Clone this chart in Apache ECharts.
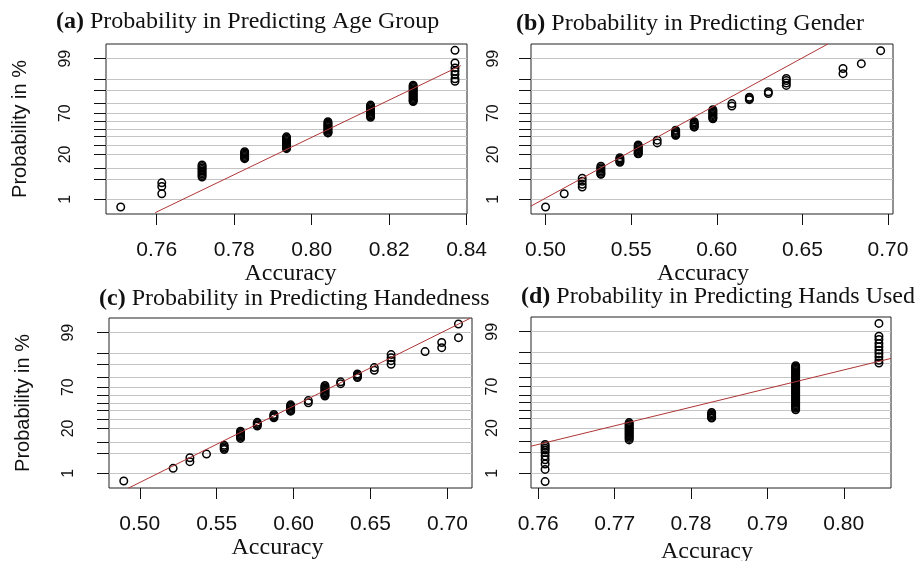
<!DOCTYPE html>
<html lang="en">
<head>
  <meta charset="UTF-8">
  <title>Probability plots of accuracy</title>
  <script src="https://cdn.jsdelivr.net/npm/echarts@6/dist/echarts.min.js"></script>
  <style>
    html, body { margin: 0; padding: 0; background: #fff; }
  </style>
</head>
<body>

<div id="chart" style="width: 918px; height: 561px;"></div>

<script>
  // panel titles
  var panelTags = ['(a)', '(b)', '(c)', '(d)'];
  var panelTitles = [
    'Probability in Predicting Age Group',
    'Probability in Predicting Gender',
    'Probability in Predicting Handedness',
    'Probability in Predicting Hands Used'
  ];

  // probability grid (%) and the matching normal quantiles
  var probLevels = [1, 5, 10, 20, 30, 40, 50, 60, 70, 80, 90, 95, 99];
  var probZ = [-2.326, -1.645, -1.282, -0.842, -0.524, -0.253, 0, 0.253, 0.524, 0.842, 1.282, 1.645, 2.326];
  var labelProbs = [1, 20, 70, 99];

  // x tick labels
  var ageTicks = [0.76, 0.78, 0.80, 0.82, 0.84];
  var genderTicks = [0.50, 0.55, 0.60, 0.65, 0.70];
  var handTicks = [0.50, 0.55, 0.60, 0.65, 0.70];
  var usedTicks = [0.76, 0.77, 0.78, 0.79, 0.80];

  // (a) age group: accuracy levels and normal scores of the points at each level
  var ageAcc = [0.7507, 0.7613, 0.7717, 0.7827, 0.7935, 0.8042, 0.8152, 0.8262, 0.8370];
  var ageZ = [
    [-2.58],
    [-1.78, -1.90, -2.14],
    [-1.19, -1.24, -1.29, -1.34, -1.39, -1.44, -1.49, -1.54, -1.59],
    [-0.75, -0.79, -0.83, -0.87, -0.91, -0.95, -0.98],
    [-0.26, -0.30, -0.34, -0.38, -0.42, -0.46, -0.50, -0.54, -0.58, -0.62, -0.65],
    [0.24, 0.20, 0.16, 0.12, 0.08, 0.04, 0.00, -0.04, -0.08, -0.12, -0.13],
    [0.79, 0.75, 0.71, 0.67, 0.63, 0.59, 0.55, 0.51, 0.47, 0.43, 0.39],
    [1.45, 1.41, 1.37, 1.33, 1.29, 1.25, 1.21, 1.17, 1.13, 1.09, 1.05, 1.01, 0.97, 0.93, 0.91],
    [2.60, 2.18, 2.02, 1.91, 1.80, 1.66, 1.58]
  ];
  var ageLine = [[0.7596, -2.766], [0.8385, 2.096]];

  // (b) gender
  var genderAcc = [0.5000, 0.5109, 0.5214, 0.5323, 0.5434, 0.5541, 0.5652, 0.5760, 0.5868,
                   0.5977, 0.6088, 0.6190, 0.6301, 0.6406, 0.6737, 0.6844, 0.6957];
  var genderZ = [
    [-2.58],
    [-2.14],
    [-1.63, -1.73, -1.83, -1.92],
    [-1.23, -1.28, -1.33, -1.38, -1.43, -1.48, -1.50],
    [-0.95, -0.99, -1.03, -1.07, -1.10],
    [-0.53, -0.57, -0.61, -0.65, -0.69, -0.73, -0.77, -0.81, -0.82],
    [-0.37, -0.46],
    [-0.04, -0.08, -0.12, -0.16, -0.20, -0.21],
    [0.24, 0.20, 0.16, 0.12, 0.08, 0.06],
    [0.64, 0.60, 0.56, 0.52, 0.48, 0.44, 0.40, 0.36, 0.34],
    [0.84, 0.76],
    [1.05, 1.01, 0.97],
    [1.23, 1.17],
    [1.67, 1.60, 1.52, 1.44],
    [2.00, 1.83],
    [2.16],
    [2.59]
  ];
  var genderLine = [[0.4915, -2.548], [0.6649, 2.812]];

  // (c) handedness
  var handAcc = [0.4896, 0.5217, 0.5326, 0.5434, 0.5549, 0.5655, 0.5764, 0.5872, 0.5981,
                 0.6096, 0.6204, 0.6306, 0.6415, 0.6525, 0.6634, 0.6855, 0.6963, 0.7072];
  var handZ = [
    [-2.58],
    [-2.16],
    [-1.81, -1.94],
    [-1.69],
    [-1.40, -1.45, -1.50, -1.54],
    [-0.93, -0.97, -1.01, -1.05, -1.09, -1.13, -1.17],
    [-0.64, -0.68, -0.72, -0.76],
    [-0.38, -0.42, -0.46, -0.49],
    [-0.06, -0.10, -0.14, -0.18, -0.22, -0.26, -0.27],
    [0.08, 0.01],
    [0.58, 0.54, 0.50, 0.46, 0.42, 0.38, 0.34, 0.30, 0.26, 0.23],
    [0.70, 0.64],
    [0.96, 0.92, 0.88, 0.84],
    [1.17, 1.08],
    [1.60, 1.50, 1.40, 1.28],
    [1.70],
    [2.00, 1.83],
    [2.61, 2.16]
  ];
  var handLine = [[0.4924, -2.82], [0.7148, 2.80]];

  // (d) hands used
  var usedAcc = [0.7609, 0.7719, 0.7827, 0.7937, 0.8046];
  var usedZ = [
    [-2.60, -2.20, -2.02, -1.88, -1.76, -1.64, -1.56, -1.50, -1.44, -1.38],
    [-0.66, -0.70, -0.74, -0.78, -0.82, -0.86, -0.90, -0.94, -0.98, -1.02, -1.06, -1.10, -1.14, -1.18, -1.23],
    [-0.33, -0.37, -0.41, -0.45, -0.49, -0.51],
    [1.21, 1.17, 1.13, 1.09, 1.05, 1.01, 0.97, 0.93, 0.89, 0.85, 0.81, 0.77, 0.73, 0.69, 0.65, 0.61, 0.57,
     0.53, 0.49, 0.45, 0.41, 0.37, 0.33, 0.29, 0.25, 0.21, 0.17, 0.13, 0.09, 0.05, 0.01, -0.03, -0.07,
     -0.11, -0.15, -0.19, -0.24],
    [2.60, 2.18, 2.07, 1.94, 1.83, 1.72, 1.61, 1.50, 1.39, 1.30]
  ];
  var usedLine = [[0.75905, -1.436], [0.80618, 1.449]];

  // layout of the four panels
  var panels = [
    { acc: ageAcc, z: ageZ, line: ageLine, ticks: ageTicks,
      left: 106, top: 44, width: 361, height: 170, xMin: 0.7469, xMax: 0.8401,
      yMargin: 32, nameGap: 40, nameShift: 4, titleLeft: 56, titleTop: 10, yName: true },
    { acc: genderAcc, z: genderZ, line: genderLine, ticks: genderTicks,
      left: 531, top: 44, width: 362, height: 170, xMin: 0.4915, xMax: 0.7029,
      yMargin: 29, nameGap: 44, nameShift: -9, titleLeft: 516, titleTop: 12, yName: false },
    { acc: handAcc, z: handZ, line: handLine, ticks: handTicks,
      left: 109, top: 318, width: 363, height: 170, xMin: 0.480, xMax: 0.716,
      yMargin: 32, nameGap: 47, nameShift: -13, titleLeft: 99, titleTop: 287, yName: true },
    { acc: usedAcc, z: usedZ, line: usedLine, ticks: usedTicks,
      left: 531, top: 317, width: 360, height: 171, xMin: 0.75905, xMax: 0.80618,
      yMargin: 30, nameGap: 52, nameShift: -4, titleLeft: 521, titleTop: 285, yName: false }
  ];

  var labelZ = labelProbs.map(function (p) { return probZ[probLevels.indexOf(p)]; });
  var ink = '#111';

  var myChart = echarts.init(document.getElementById('chart'));

  var option = {
    animation: false,
    backgroundColor: '#fff',
    title: panels.map(function (p, i) {
      return {
        text: '{b|' + panelTags[i] + '} ' + panelTitles[i],
        left: p.titleLeft,
        top: p.titleTop,
        padding: 0,
        textStyle: {
          fontFamily: 'Liberation Serif', fontSize: 24, fontWeight: 'normal', color: ink,
          rich: { b: { fontFamily: 'Liberation Serif', fontSize: 24, fontWeight: 'bold', color: ink } }
        }
      };
    }),
    grid: panels.map(function (p) {
      return {
        left: p.left, top: p.top, width: p.width, height: p.height,
        show: true, borderColor: '#222', borderWidth: 1, backgroundColor: 'transparent',
        containLabel: false, outerBoundsMode: 'none'
      };
    }),
    xAxis: panels.map(function (p, i) {
      var pad = p.nameShift > 0 ? [0, 0, 0, 2 * p.nameShift] : [0, -2 * p.nameShift, 0, 0];
      return {
        type: 'value', gridIndex: i, min: p.xMin, max: p.xMax,
        axisLine: { show: false, onZero: false },
        axisTick: { show: true, length: 11, customValues: p.ticks, lineStyle: { color: ink } },
        axisLabel: {
          customValues: p.ticks, margin: 26, fontSize: 21, fontFamily: 'Liberation Sans', color: ink,
          formatter: function (v) { return v.toFixed(2); }
        },
        splitLine: { show: false },
        name: 'Accuracy', nameLocation: 'middle', nameGap: p.nameGap,
        nameTextStyle: { fontFamily: 'Liberation Serif', fontSize: 24, color: ink, padding: pad }
      };
    }),
    yAxis: panels.map(function (p, i) {
      return {
        type: 'value', gridIndex: i, min: -2.81, max: 2.81,
        axisLine: { show: false, onZero: false },
        axisTick: { show: true, length: 12, customValues: probZ, lineStyle: { color: ink } },
        axisLabel: {
          customValues: labelZ, rotate: 90, margin: p.yMargin, fontSize: 16,
          fontFamily: 'Liberation Sans', color: ink,
          formatter: function (v) {
            var k = probZ.findIndex(function (z) { return Math.abs(z - v) < 1e-6; });
            return k < 0 ? '' : String(probLevels[k]);
          }
        },
        splitLine: { show: true, lineStyle: { color: '#c4c4c4', width: 1 } },
        name: p.yName ? 'Probability in %' : '',
        nameLocation: 'middle', nameGap: 76,
        nameTextStyle: { fontFamily: 'Liberation Sans', fontSize: 20, color: ink }
      };
    }),
    series: []
  };

  panels.forEach(function (p, i) {
    var pts = [];
    p.acc.forEach(function (a, k) {
      p.z[k].forEach(function (z) { pts.push([a, z]); });
    });
    option.series.push({
      type: 'scatter', xAxisIndex: i, yAxisIndex: i, data: pts,
      symbol: 'circle', symbolSize: 7.5, silent: true,
      itemStyle: { color: 'rgba(0,0,0,0)', borderColor: '#000', borderWidth: 1.5, opacity: 1 }
    });
    option.series.push({
      type: 'line', xAxisIndex: i, yAxisIndex: i, data: p.line,
      symbol: 'none', silent: true, clip: true, z: 3,
      lineStyle: { color: '#b03535', width: 1 }
    });
  });

  myChart.setOption(option);
</script>

</body>
</html>
